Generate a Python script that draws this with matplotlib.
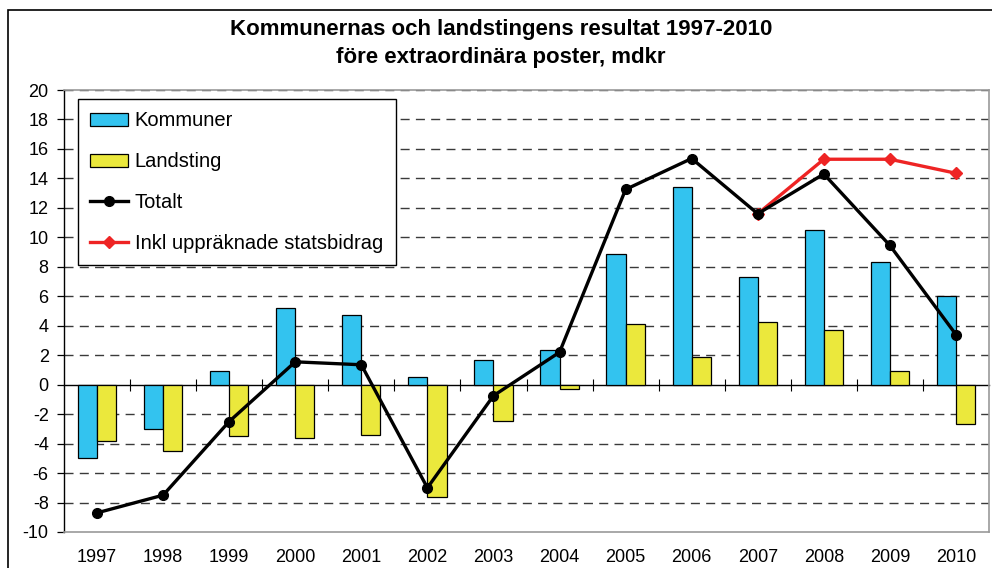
import numpy as np
import matplotlib.pyplot as plt
from matplotlib.patches import Rectangle

plt.rcParams['font.family'] = ['Liberation Sans', 'DejaVu Sans']
plt.rcParams['axes.unicode_minus'] = False

# Data
years = ['1997', '1998', '1999', '2000', '2001', '2002', '2003',
         '2004', '2005', '2006', '2007', '2008', '2009', '2010']
kommuner = [-5.0, -3.0, 0.95, 5.2, 4.75, 0.55, 1.7,
            2.35, 8.9, 13.4, 7.3, 10.5, 8.3, 6.05]
landsting = [-3.8, -4.5, -3.5, -3.65, -3.4, -7.6, -2.45,
             -0.3, 4.15, 1.85, 4.25, 3.7, 0.95, -2.65]
totalt = [-8.7, -7.5, -2.5, 1.55, 1.35, -7.0, -0.75,
          2.2, 13.25, 15.35, 11.6, 14.3, 9.45, 3.4]
inkl_years = ['2007', '2008', '2009', '2010']
inkl = [11.6, 15.3, 15.3, 14.35]

x = np.arange(len(years))
x_inkl = np.array([years.index(y) for y in inkl_years])
bw = 0.29

fig = plt.figure(figsize=(9.92, 5.68), dpi=100)
ax = fig.add_axes([64/992, 1 - 532/568, (989 - 64)/992, (532 - 90)/568])

# Zero line with category boundary ticks (twin axis kept underneath)
ax2 = ax.twiny()
ax2.set_zorder(ax.get_zorder() - 1)
ax.patch.set_visible(False)
for s in ['top', 'left', 'right']:
    ax2.spines[s].set_visible(False)
ax2.spines['bottom'].set_position(('data', 0))
ax2.spines['bottom'].set_linewidth(1.0)
ax2.xaxis.set_ticks_position('bottom')
ax2.set_xlim(-0.5, len(years) - 0.5)
ax2.set_xticks(np.arange(0.5, len(years) - 1, 1.0))
ax2.tick_params(axis='x', direction='inout', length=8, width=0.8, labelbottom=False)

# Gridlines
for v in range(-10, 21, 2):
    if v != 0 and v != -10:
        ax.axhline(v, color='#3a3a3a', lw=1.0, dashes=(6.5, 4.5), zorder=0.5)

h_k = ax.bar(x - bw/2, kommuner, bw, color='#33C3EF', edgecolor='black', lw=0.9,
             label='Kommuner', zorder=2)
h_l = ax.bar(x + bw/2, landsting, bw, color='#EBE83C', edgecolor='black', lw=0.9,
             label='Landsting', zorder=2)
h_t, = ax.plot(x, totalt, color='black', lw=2.4, marker='o', ms=7, label='Totalt', zorder=4)
h_i, = ax.plot(x_inkl, inkl, color='#EE2424', lw=2.4, marker='D', ms=6,
               label='Inkl uppräknade statsbidrag', zorder=3)

ax.set_xlim(-0.5, len(years) - 0.5)
ax.set_ylim(-10, 20)
ax.set_yticks(range(-10, 21, 2))
ax.set_xticks(x)
ax.set_xticklabels(years)
ax.tick_params(axis='x', length=0, pad=12, labelsize=13)
ax.tick_params(axis='y', direction='out', length=5, width=0.9, pad=6, labelsize=13)

ax.spines['left'].set_color('black')
ax.spines['left'].set_linewidth(1.0)
for s in ['top', 'right', 'bottom']:
    ax.spines[s].set_color('#999999')
    ax.spines[s].set_linewidth(1.2)

leg = ax.legend(handles=[h_k, h_l, h_t, h_i],
                loc='upper left', bbox_to_anchor=(78/992, 1 - 99/568),
                bbox_transform=fig.transFigure, fontsize=14.5, frameon=True,
                fancybox=False, edgecolor='black', framealpha=1,
                handlelength=1.85, handleheight=0.6, handletextpad=0.35,
                labelspacing=1.08, borderpad=0.62, borderaxespad=0)
leg.get_frame().set_linewidth(1.0)

fig.text(501/992, 1 - 30/568, 'Kommunernas och landstingens resultat 1997-2010',
         ha='center', va='center', fontsize=16, fontweight='bold')
fig.text(501/992, 1 - 58/568, 'före extraordinära poster, mdkr',
         ha='center', va='center', fontsize=16, fontweight='bold')

# Outer chart border
fig.patches.append(Rectangle((8/992, -0.1), 1.1, 1 - 10.5/568 + 0.1,
                             transform=fig.transFigure, fill=False,
                             edgecolor='black', lw=1.2))

fig.savefig('out.png', dpi=100)
